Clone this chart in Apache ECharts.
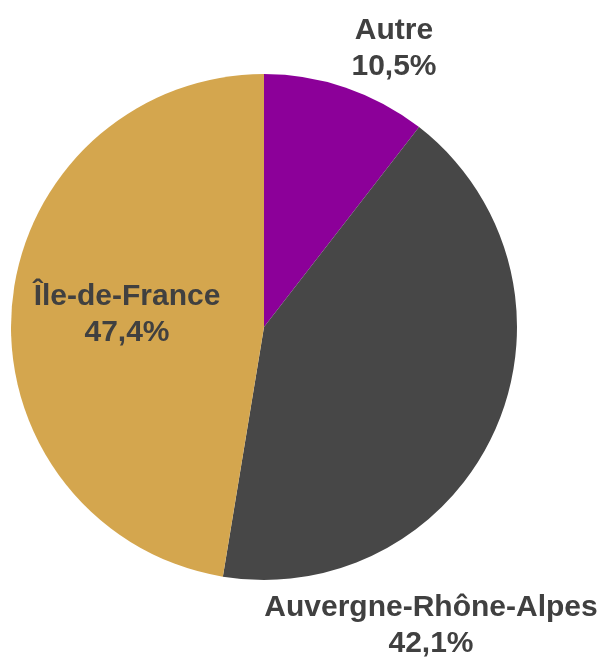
<!DOCTYPE html>
<html>
<head>
<meta charset="utf-8">
<script src="https://cdn.jsdelivr.net/npm/echarts@6/dist/echarts.min.js"></script>
<style>
  html, body { margin: 0; padding: 0; background: #fff; }
  #pie { width: 605px; height: 662px; }
</style>
</head>
<body>
<div id="pie"></div>
<script>
const regions = ['Autre', 'Auvergne-Rhône-Alpes', 'Île-de-France'];
const shares = [10.5, 42.1, 47.4];
const colorList = ['#8C0099', '#474747', '#D4A64E'];

// where each label sits (text block centre)
const labelSpots = {
    'Autre': [394, 49],
    'Auvergne-Rhône-Alpes': [431, 626],
    'Île-de-France': [127, 315]
};

var chart = echarts.init(document.getElementById('pie'), null, { renderer: 'canvas' });

option = {
    backgroundColor: '#fff',
    animation: false,
    color: colorList,
    series: [{
        type: 'pie',
        center: [264, 327],
        radius: 253,
        startAngle: 90,
        clockwise: true,
        avoidLabelOverlap: false,
        label: {
            show: true,
            position: 'inside',
            overflow: 'none',
            formatter: function (p) {
                return p.name + '\n' + p.value.toFixed(1).replace('.', ',') + '%';
            },
            color: '#404040',
            fontFamily: 'Liberation Sans, Arial, sans-serif',
            fontWeight: 'bold',
            fontSize: 30,
            lineHeight: 36,
            align: 'center'
        },
        labelLine: { show: false },
        labelLayout: function (params) {
            const spot = labelSpots[regions[params.dataIndex]];
            return {
                x: spot[0],
                y: spot[1],
                align: 'center',
                verticalAlign: 'middle',
                hideOverlap: false
            };
        },
        itemStyle: { borderWidth: 0 },
        emphasis: { disabled: true },
        data: regions.map(function (name, i) {
            return { name: name, value: shares[i] };
        })
    }]
};

chart.setOption(option);
</script>
</body>
</html>
